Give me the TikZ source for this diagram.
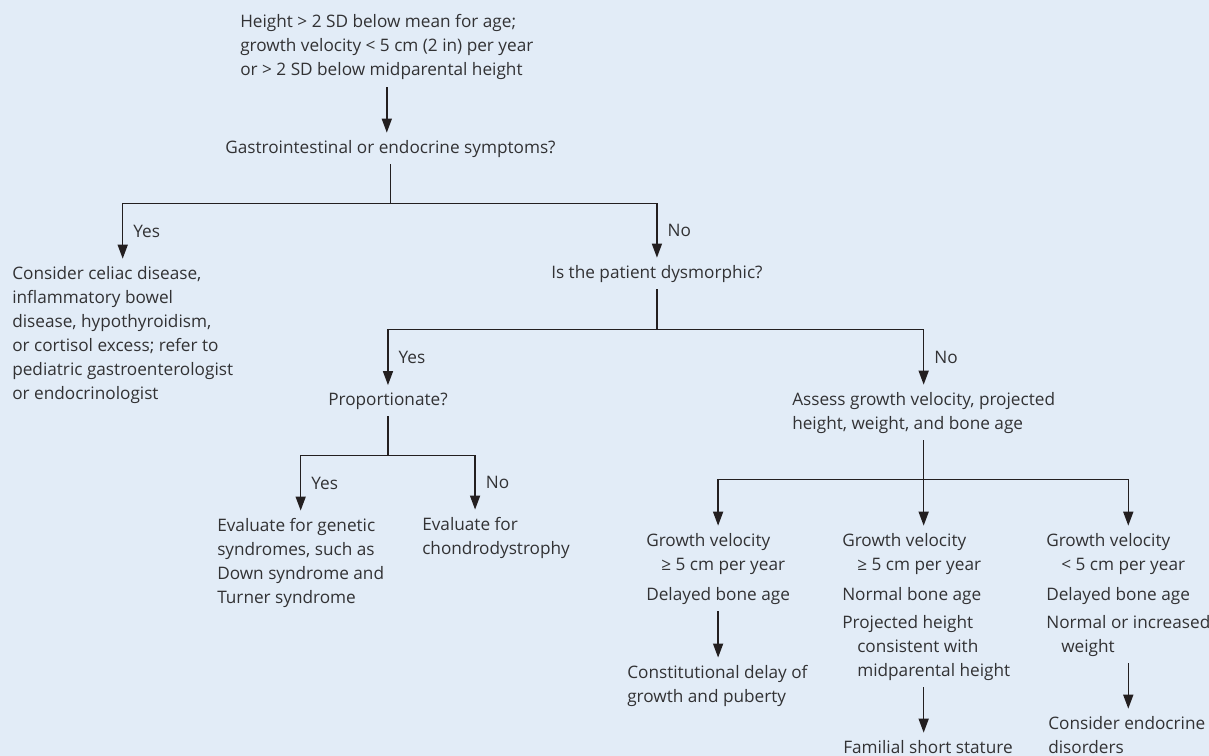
\documentclass[tikz,border=0pt]{standalone}
\usepackage{fontspec}
\setmainfont{Open Sans}
\usepackage{xcolor}
\usetikzlibrary{arrows.meta, positioning}

\definecolor{bgblue}{RGB}{226,236,247}
\definecolor{inkgray}{RGB}{50,50,52}
\definecolor{linegray}{RGB}{35,31,32}

\begin{document}
\begin{tikzpicture}[
    x=0.75pt, y=-0.75pt, % one unit = one pixel of the original
    block/.style={anchor=base west, align=left, inner sep=5.25pt, text=inkgray, font=\fontsize{12.9}{18}\selectfont},
    answer/.style={anchor=west, inner sep=0pt, xshift=7.5pt, pos=0.75, text=inkgray, font=\fontsize{12.9}{18}\selectfont},
    line/.style={draw=linegray, line width=1.1pt},
    arrow/.style={line, -{Triangle[length=10.5pt, width=7.5pt]}}
]

% Background
\useasboundingbox (0,0) rectangle (1209,756);
\fill[bgblue] (0,0) rectangle (1209,756);

% Entry and first question (placed by the baseline of the last line)
\node[block] (start) at (233,76) {Height > 2 SD below mean for age;\\growth velocity < 5 cm (2 in) per year\\or > 2 SD below midparental height};
\node[block] (gi) at (218,153) {Gastrointestinal or endocrine symptoms?};

% Second level
\node[block] (celiac) at (5,399) {Consider celiac disease,\\inflammatory bowel\\disease, hypothyroidism,\\or cortisol excess; refer to\\pediatric gastroenterologist\\or endocrinologist};
\node[block] (dysm) at (544,278) {Is the patient dysmorphic?};

% Dysmorphic branch
\node[block] (prop) at (321,405) {Proportionate?};
\node[block] (genetic) at (210,603) {Evaluate for genetic\\syndromes, such as\\Down syndrome and\\Turner syndrome};
\node[block] (chondro) at (415,554) {Evaluate for\\chondrodystrophy};

% Non-dysmorphic branch
\node[block] (assess) at (785,429) {Assess growth velocity, projected\\height, weight, and bone age};
\node[block] (col1) at (639,600) {Growth velocity\\\hspace*{11.25pt}≥ 5 cm per year\\[4.5pt]Delayed bone age};
\node[block] (col2) at (835,676) {Growth velocity\\\hspace*{11.25pt}≥ 5 cm per year\\[4.5pt]Normal bone age\\[3pt]Projected height\\\hspace*{11.25pt}consistent with\\\hspace*{11.25pt}midparental height};
\node[block] (col3) at (1039,652) {Growth velocity\\\hspace*{11.25pt}< 5 cm per year\\[4.5pt]Delayed bone age\\[3pt]Normal or increased\\\hspace*{11.25pt}weight};

% Outcomes
\node[block] (constit) at (620,702) {Constitutional delay of\\growth and puberty};
\node[block] (familial) at (836,753) {Familial short stature};
\node[block] (endo) at (1041,753) {Consider endocrine\\disorders};

% Arrows
\draw[arrow] (start.south) -- (start.south |- gi.north);
\draw[line] (gi.south) -- ++(0,39) coordinate (gisplit);
\draw[arrow] (gisplit) -| node[answer] {Yes} (celiac.north);
\draw[arrow] (gisplit) -| node[answer] {No} (dysm.north);

\draw[line] (dysm.south) -- ++(0,40) coordinate (dysmsplit);
\draw[arrow] (dysmsplit) -| node[answer] {Yes} (prop.north);
\draw[arrow] (dysmsplit) -| node[answer] {No} (assess.north);

\draw[line] (prop.south) -- ++(0,39) coordinate (propsplit);
\draw[arrow] (propsplit) -| node[answer] {Yes} (genetic.north);
\draw[arrow] (propsplit) -| node[answer] {No} ([xshift=-15.75pt]chondro.north);

\draw[line] (assess.south) -- ++(0,39) coordinate (assesssplit);
\draw[arrow] (assesssplit) -| (col1.north);
\draw[arrow] (assesssplit) -- (assesssplit |- col2.north);
\draw[arrow] (assesssplit) -| (col3.north);

\draw[arrow] (col1.south) -- (col1.south |- constit.north);
\draw[arrow] (col2.south -| assesssplit) -- (assesssplit |- familial.north);
\draw[arrow] (col3.south) -- (col3.south |- endo.north);

\end{tikzpicture}
\end{document}
